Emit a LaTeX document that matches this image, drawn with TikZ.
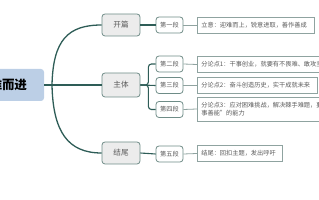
\documentclass[tikz,border=0pt]{standalone}
\usepackage{fontspec}
\newfontfamily\cjk{Noto Sans CJK SC}
\definecolor{conn}{HTML}{2E5D57}
\definecolor{bord}{HTML}{6E8C87}
\definecolor{tbord}{HTML}{8FA3A0}
\definecolor{lfill}{HTML}{ECECEC}
\definecolor{rootfill}{HTML}{BCCFE6}
\definecolor{txt}{HTML}{5A5A5A}
\begin{document}
\begin{tikzpicture}[x=1pt,y=-1pt,
  rootbox/.style={draw=none,fill=rootfill,rounded corners=3pt,minimum width=84pt,minimum height=32pt,inner sep=0pt,font=\cjk\fontsize{12.5}{14}\selectfont\bfseries,text=black},
  lvlone/.style={draw=bord,fill=lfill,line width=0.8pt,rounded corners=3pt,minimum width=38pt,minimum height=22pt,inner sep=0pt,font=\cjk\fontsize{7.6}{9}\selectfont,text=txt},
  lvltwo/.style={draw=bord,fill=white,line width=0.8pt,rounded corners=3pt,minimum width=27pt,minimum height=16pt,inner sep=0pt,font=\cjk\fontsize{6.2}{7}\selectfont,text=txt},
  tbox/.style={draw=tbord,fill=white,line width=0.7pt,minimum height=16pt,inner xsep=4pt,inner ysep=0pt,anchor=west,align=left,font=\cjk\fontsize{6.2}{8}\selectfont,text=txt},
  mainconn/.style={draw=conn,line width=1.3pt},
  subconn/.style={draw=conn,line width=1.1pt,rounded corners=3pt},
  thinconn/.style={draw=tbord,line width=0.8pt}]
\useasboundingbox (0,0) rectangle (319,200);
% root
\node[rootbox] (root) at (2,85) {迎难而进};
\coordinate (hub) at (52,85);
% level one
\node[lvlone] (kp) at (121,25) {开篇};
\node[lvlone,minimum height=24pt] (zt) at (121,85) {主体};
\node[lvlone] (jw) at (121,153) {结尾};
% level two
\node[lvltwo] (d1) at (169.5,25) {第一段};
\node[lvltwo] (d2) at (169.5,64) {第二段};
\node[lvltwo] (d3) at (169.5,85.5) {第三段};
\node[lvltwo] (d4) at (169.5,109.5) {第四段};
\node[lvltwo] (d5) at (169.5,154) {第五段};
% text boxes
\node[tbox,text width=109pt] (t1) at (197,25) {立意：迎难而上，锐意进取，善作善成};
\node[tbox,text width=140pt] (t2) at (197,64.5) {分论点1：干事创业，就要有不畏难、敢攻坚的担当};
\node[tbox,text width=112pt] (t3) at (197,85.5) {分论点2：奋斗创造历史，实干成就未来};
\node[tbox,text width=140pt,minimum height=24pt] (t4) at (197,109) {分论点3：应对困难挑战，解决棘手难题，要有“谋\\事善能”的能力};
\node[tbox,text width=77pt] (t5) at (197,153.5) {结尾：回扣主题，发出呼吁};
% main connectors
\draw[mainconn] (root.east) -- (hub) -- (zt.west);
\draw[mainconn] (hub) .. controls (53,40) and (68,25) .. (kp.west);
\draw[mainconn] (hub) .. controls (53,132) and (68,153) .. (jw.west);
% sub connectors
\draw[subconn] (kp.east) -- (d1.west);
\draw[subconn] (zt.east) -- ++(8,0) |- (d2.west);
\draw[subconn] (zt.east) -- (d3.west);
\draw[subconn] (zt.east) -- ++(8,0) |- (d4.west);
\draw[subconn] (jw.east) -- (d5.west);
% thin connectors
\draw[thinconn] (d1.east) -- (t1.west);
\draw[thinconn] (d2.east) -- (t2.west);
\draw[thinconn] (d3.east) -- (t3.west);
\draw[thinconn] (d4.east) -- (t4.west);
\draw[thinconn] (d5.east) -- (t5.west);
\end{tikzpicture}
\end{document}
